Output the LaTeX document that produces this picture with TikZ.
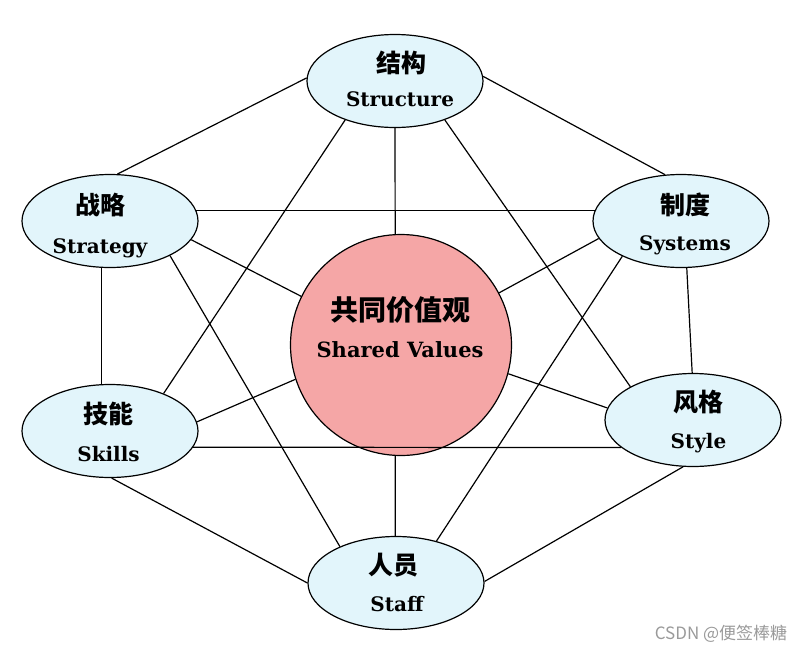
\documentclass[tikz,border=0pt]{standalone}
\usepackage{fontspec}
\usetikzlibrary{shapes.geometric}
\newfontfamily\cjk{Noto Sans CJK SC}
\newfontfamily\enserif{DejaVu Serif}
\definecolor{nodefill}{HTML}{E2F5FB}
\definecolor{corefill}{HTML}{F5A6A6}
\definecolor{markgray}{HTML}{9A9A9A}
\begin{document}
\begin{tikzpicture}[x=1pt,y=-1pt,
  elem/.style={ellipse, draw=black, line width=1.2pt, fill=nodefill,
    minimum width=176pt, minimum height=93pt, inner sep=0pt},
  core/.style={circle, draw=black, line width=1.2pt, fill=corefill,
    minimum size=221pt, inner sep=0pt},
  zh/.style={font=\cjk\bfseries\fontsize{25}{25}\selectfont, inner sep=0pt},
  zhbig/.style={font=\cjk\bfseries\fontsize{28}{28}\selectfont, inner sep=0pt},
  en/.style={font=\enserif\bfseries\fontsize{20}{20}\selectfont, inner sep=0pt, anchor=base},
  enbig/.style={font=\enserif\bfseries\fontsize{21}{21}\selectfont, inner sep=0pt, anchor=base},
  link/.style={line width=1.2pt, draw=black},
  wmark/.style={font=\cjk\fontsize{17}{17}\selectfont, text=markgray, inner sep=0pt},
]
\useasboundingbox (0,0) rectangle (806,654);

% nodes
\node[elem] (st) at (395,81) {};
\node[elem] (sg) at (110,221) {};
\node[elem] (sy) at (681,221) {};
\node[elem] (sk) at (110,431) {};
\node[elem] (sl) at (693,420) {};
\node[elem] (sf) at (396,583) {};
\node[core] (cv) at (401,345) {};

% connectors
\draw[link] (st.178) -- (sg.81);
\draw[link] (st.3) -- (sy.109);
\draw[link] (st.south) -- (cv.93);
\draw[link] (st.218) -- (sk.35);
\draw[link] (st.322) -- (sl.152);
\draw[link] (sg.7) -- (sy.173);
\draw[link] (sg.347) -- (cv.154);
\draw[link] (sg.260) -- (sk.100);
\draw[link] (sg.330) -- (sf.147);
\draw[link] (sy.192) -- (cv.28);
\draw[link] (sy.277) -- (sl.91);
\draw[link] (sy.211) -- (sf.46);
\draw[link] (sk.6) -- (cv.198);
\draw[link] (sk.349) -- (sl.201);
\draw[link] (sk.272) -- (sf.180);
\draw[link] (sl.172) -- (cv.345);
\draw[link] (sl.258) -- (sf.1);
\draw[link] (sf.91) -- (cv.267);

% labels
\node[zh] (stz) at (401,63) {结构};
\node[en] (ste) at (400,106) {Structure};
\node[zh] (sgz) at (100.5,205) {战略};
\node[en] (sge) at (100,253) {Strategy};
\node[zh] (syz) at (685.5,205) {制度};
\node[en] (sye) at (685,250) {Systems};
\node[zh] (skz) at (108,414) {技能};
\node[en] (ske) at (108.5,461) {Skills};
\node[zh] (slz) at (698.5,402) {风格};
\node[en] (sle) at (698.5,448) {Style};
\node[zh] (sfz) at (393.5,565) {人员};
\node[en] (sfe) at (397,611) {Staff};
\node[zhbig] (cvz) at (400,310) {共同价值观};
\node[enbig] (cve) at (400,357) {Shared Values};

\node[wmark] (wm) at (721,634) {CSDN @便签棒糖};
\end{tikzpicture}
\end{document}
